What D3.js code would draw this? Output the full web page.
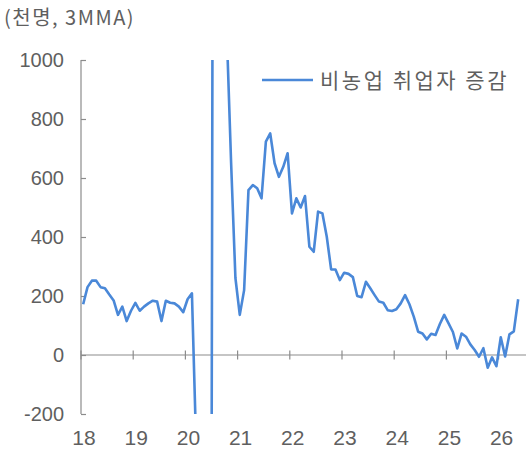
<!DOCTYPE html>
<html><head><meta charset="utf-8">
<script src="https://cdn.jsdelivr.net/npm/d3@7"></script>
<style>body{margin:0;background:#fff}svg{display:block}</style>
</head><body>
<svg id="c" width="526" height="451"></svg>
<script>
const yearLabels = ["18","19","20","21","22","23","24","25","26"];
const yTicks = [-200, 0, 200, 400, 600, 800, 1000];
const seriesName = "비농업 취업자 증감";
const unitLabel = "(천명, 3MMA)";
// monthly values, Jan 2018 – May 2026 (thousand, 3-month moving average)
const values = [
  172, 230, 252, 252, 230, 226, 205, 185, 136, 164, 115, 150,
  177, 150, 164, 175, 184, 181, 115, 184, 177, 175, 164, 145,
  189, 209, -320, -7200, -6340, -4260, 3135, 2720, 1340, 1100, 654, 261,
  136, 220, 559, 576, 565, 531, 723, 751, 650, 604, 638, 684,
  480, 531, 500, 539, 367, 350, 486, 480, 401, 290, 290, 254,
  279, 275, 264, 200, 196, 248, 226, 203, 181, 177, 152, 149,
  155, 175, 203, 172, 130, 79, 73, 53, 72, 68, 105, 136,
  107, 78, 22, 73, 62, 36, 17, -6, 23, -43, -8, -38,
  60, -5, 70, 80, 189
];

const svg = d3.select("#c");
const font = "'Liberation Sans', Arial, 'Noto Sans CJK KR', sans-serif";
const textCol = "#5f5f5f", axisCol = "#8c8c8c", lineCol = "#4A88D8";

const L = 81, R = 526, T = 60, B = 414;
const x = d3.scaleLinear().domain([-0.5, 101.8]).range([L, R]);
const y = d3.scaleLinear().domain([-200, 1000]).range([B, T]);

svg.append("defs").append("clipPath").attr("id","clip")
  .append("rect").attr("x", L).attr("y", T).attr("width", R - L).attr("height", B - T);

// y axis
const yAxis = d3.axisRight(y).tickValues(yTicks).tickSize(5).tickFormat("");
const gy = svg.append("g").attr("transform", `translate(${L},0)`).call(yAxis);
gy.select(".domain").remove();
gy.append("line").attr("x1",0).attr("x2",0).attr("y1",T).attr("y2",B);
gy.selectAll("line").attr("stroke", axisCol).attr("stroke-width", 1.2);

svg.append("g").selectAll("text").data(yTicks).join("text")
  .attr("x", 64).attr("y", d => y(d)).attr("dy", "0.36em")
  .attr("text-anchor", "end").attr("font-family", font).attr("font-size", 20)
  .attr("fill", textCol).text(d => d);

// x axis at zero
const yearIdx = yearLabels.map((d, k) => 12 * k - 0.5);
const gx = svg.append("g").attr("transform", `translate(0,${y(0)})`);
gx.append("line").attr("x1", L).attr("x2", R).attr("y1", 0).attr("y2", 0)
  .attr("stroke", axisCol).attr("stroke-width", 1.2);
gx.selectAll("line.tk").data(yearIdx).join("line").attr("class","tk")
  .attr("x1", d => x(d)).attr("x2", d => x(d)).attr("y1", -4.5).attr("y2", 4.5)
  .attr("stroke", axisCol).attr("stroke-width", 1.2);

svg.append("g").selectAll("text").data(yearLabels).join("text")
  .attr("x", (d, k) => x(yearIdx[k]) + 3).attr("y", 445)
  .attr("text-anchor", "middle").attr("font-family", font).attr("font-size", 21)
  .attr("fill", textCol).text(d => d);

// series line
const line = d3.line().x((d, i) => x(i)).y(d => y(d));
svg.append("path").datum(values).attr("clip-path", "url(#clip)")
  .attr("d", line).attr("fill", "none").attr("stroke", lineCol)
  .attr("stroke-width", 2.6).attr("stroke-linejoin", "round");

// legend
svg.append("line").attr("x1", 262).attr("x2", 313).attr("y1", 80).attr("y2", 80)
  .attr("stroke", lineCol).attr("stroke-width", 2.6);
svg.append("text").attr("x", 320).attr("y", 80).attr("dy", "0.36em")
  .attr("font-family", "'Noto Sans CJK KR', sans-serif").attr("font-size", 21)
  .attr("letter-spacing", 2.5).attr("fill", textCol).text(seriesName);

// unit label
svg.append("text").attr("x", 4).attr("y", 25)
  .attr("font-family", "'Noto Sans CJK KR', sans-serif").attr("font-size", 20)
  .attr("letter-spacing", 1.5).attr("fill", textCol).text(unitLabel);
</script>
</body></html>
